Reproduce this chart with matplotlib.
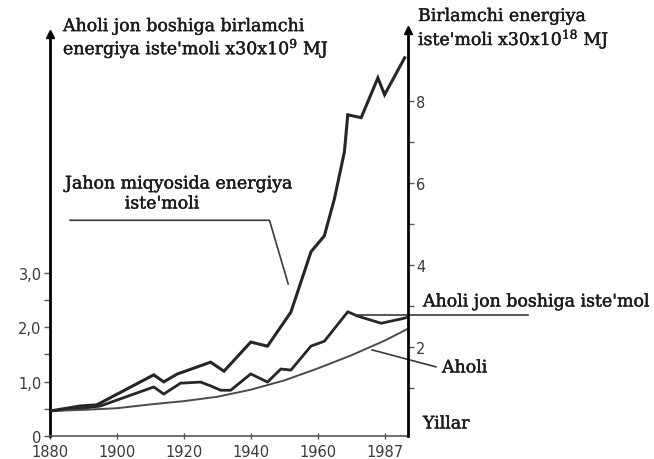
import matplotlib
matplotlib.use("Agg")
import matplotlib.pyplot as plt
import matplotlib.patheffects as pe

plt.rcParams["mathtext.fontset"] = "dejavuserif"

# Jahon miqyosida energiya iste'moli (o'ng o'q)
years_world = [1880, 1889, 1894, 1911, 1914, 1918, 1928, 1932, 1940, 1945,
               1952, 1958, 1962, 1965, 1968, 1969, 1973, 1978, 1980, 1986]
world_energy = [0.44, 0.56, 0.59, 1.32, 1.15, 1.34, 1.63, 1.41, 2.12, 2.02,
                2.85, 4.32, 4.71, 5.61, 6.76, 7.66, 7.59, 8.56, 8.15, 9.05]

# Aholi jon boshiga iste'mol (chap o'q)
years_pc = [1880, 1890, 1895, 1911, 1914, 1919, 1925, 1928, 1931, 1934, 1940,
            1945, 1949, 1952, 1958, 1962, 1969, 1972, 1979, 1985, 1987]
per_capita = [0.46, 0.51, 0.55, 0.90, 0.77, 0.97, 0.99, 0.92, 0.84, 0.84, 1.14,
              0.99, 1.23, 1.21, 1.65, 1.74, 2.28, 2.20, 2.07, 2.15, 2.18]

# Aholi (chap o'q)
years_pop = [1880, 1890, 1900, 1910, 1920, 1930, 1940, 1950, 1960, 1970, 1980, 1987]
population = [0.46, 0.48, 0.51, 0.58, 0.64, 0.72, 0.85, 1.02, 1.24, 1.48, 1.75, 1.97]

x_ticks = [1880, 1900, 1920, 1940, 1960, 1980]
x_tick_labels = ["1880", "1900", "1920", "1940", "1960", "1987"]
left_ticks = [0, 1, 2, 3]
left_tick_labels = ["0", "1,0", "2,0", "3,0"]
right_ticks = [2, 4, 6, 8]

W, H = 654, 460
fig = plt.figure(figsize=(W / 100, H / 100), dpi=100)
ax = fig.add_axes([50 / W, 1 - 437 / H, 358 / W, 402 / H])
ax2 = ax.twinx()

ax.set_xlim(1880, 1987)
ax.set_ylim(0, 7.38)
ax2.set_ylim(-0.17, 9.63)

ink = "#262626"
ax2.plot(years_world, world_energy, color=ink, lw=2.2, solid_joinstyle="miter")
ax.plot(years_pc, per_capita, color=ink, lw=2.0)
ax.plot(years_pop, population, color="#4a4a4a", lw=1.4)

for a in (ax, ax2):
    a.spines["top"].set_visible(False)
ax.spines["right"].set_visible(False)
ax2.spines["left"].set_visible(False)
ax.spines["left"].set_linewidth(2.0)
ax2.spines["right"].set_linewidth(2.0)
ax.spines["bottom"].set_linewidth(1.2)
ax.spines["bottom"].set_color("#555555")
ax2.spines["bottom"].set_visible(False)

tick_font = dict(family="DejaVu Sans", size=10.5, color="#3a3a3a")
ax.set_xticks(x_ticks)
ax.set_xticklabels(x_tick_labels, **tick_font)
ax.tick_params(axis="x", direction="inout", length=5, width=1, color="#555555", pad=3)

ax.set_yticks(left_ticks)
ax.set_yticklabels(left_tick_labels, **tick_font)
ax.set_yticks([0.5, 1.5, 2.5], minor=True)
ax.tick_params(axis="y", which="both", direction="out", length=4, width=1, color="#555555", pad=2)

ax2.set_yticks(right_ticks)
ax2.set_yticklabels([str(t) for t in right_ticks], **tick_font)
ax2.set_yticks([1, 3, 5, 7], minor=True)
ax2.tick_params(axis="y", which="both", direction="out", length=4, width=1, color="#555555", pad=2)

# strelkalar
ax.plot([0], [1], marker="^", color="k", markersize=6, transform=ax.transAxes, clip_on=False)
ax.plot([1], [1.01], marker="^", color="k", markersize=6, transform=ax.transAxes, clip_on=False)

# chiziqli izohlar
lead = dict(color="#3a3a3a", lw=1.2, clip_on=False)
ax.plot([1886, 1945.6, 1951.2], [3.96, 3.96, 2.79], **lead)
ax.plot([1971.8, 2023], [2.22, 2.22], **lead)
ax.plot([1976.3, 1995.3], [1.58, 1.27], **lead)

serif = dict(family="DejaVu Serif", size=12.5, color="#1a1a1a",
             path_effects=[pe.withStroke(linewidth=0.3, foreground="#1a1a1a")])
fig.text(63 / W, 1 - 41 / H,
         "Aholi jon boshiga birlamchi\nenergiya iste'moli x30x10$^{9}$ MJ",
         ha="left", va="center", linespacing=1.05, **serif)
fig.text(418 / W, 1 - 31 / H,
         "Birlamchi energiya\niste'moli x30x10$^{18}$ MJ",
         ha="left", va="center", linespacing=1.1, **serif)
fig.text(65 / W, 1 - 185 / H, "Jahon miqyosida energiya", ha="left", va="center", **serif)
fig.text(162 / W, 1 - 205 / H, "iste'moli", ha="center", va="center", **serif)
fig.text(423 / W, 1 - 303 / H, "Aholi jon boshiga iste'mol", ha="left", va="center", **serif)
fig.text(442 / W, 1 - 369 / H, "Aholi", ha="left", va="center", **serif)
fig.text(423 / W, 1 - 425 / H, "Yillar", ha="left", va="center", **serif)

fig.savefig("out.png", dpi=100)
